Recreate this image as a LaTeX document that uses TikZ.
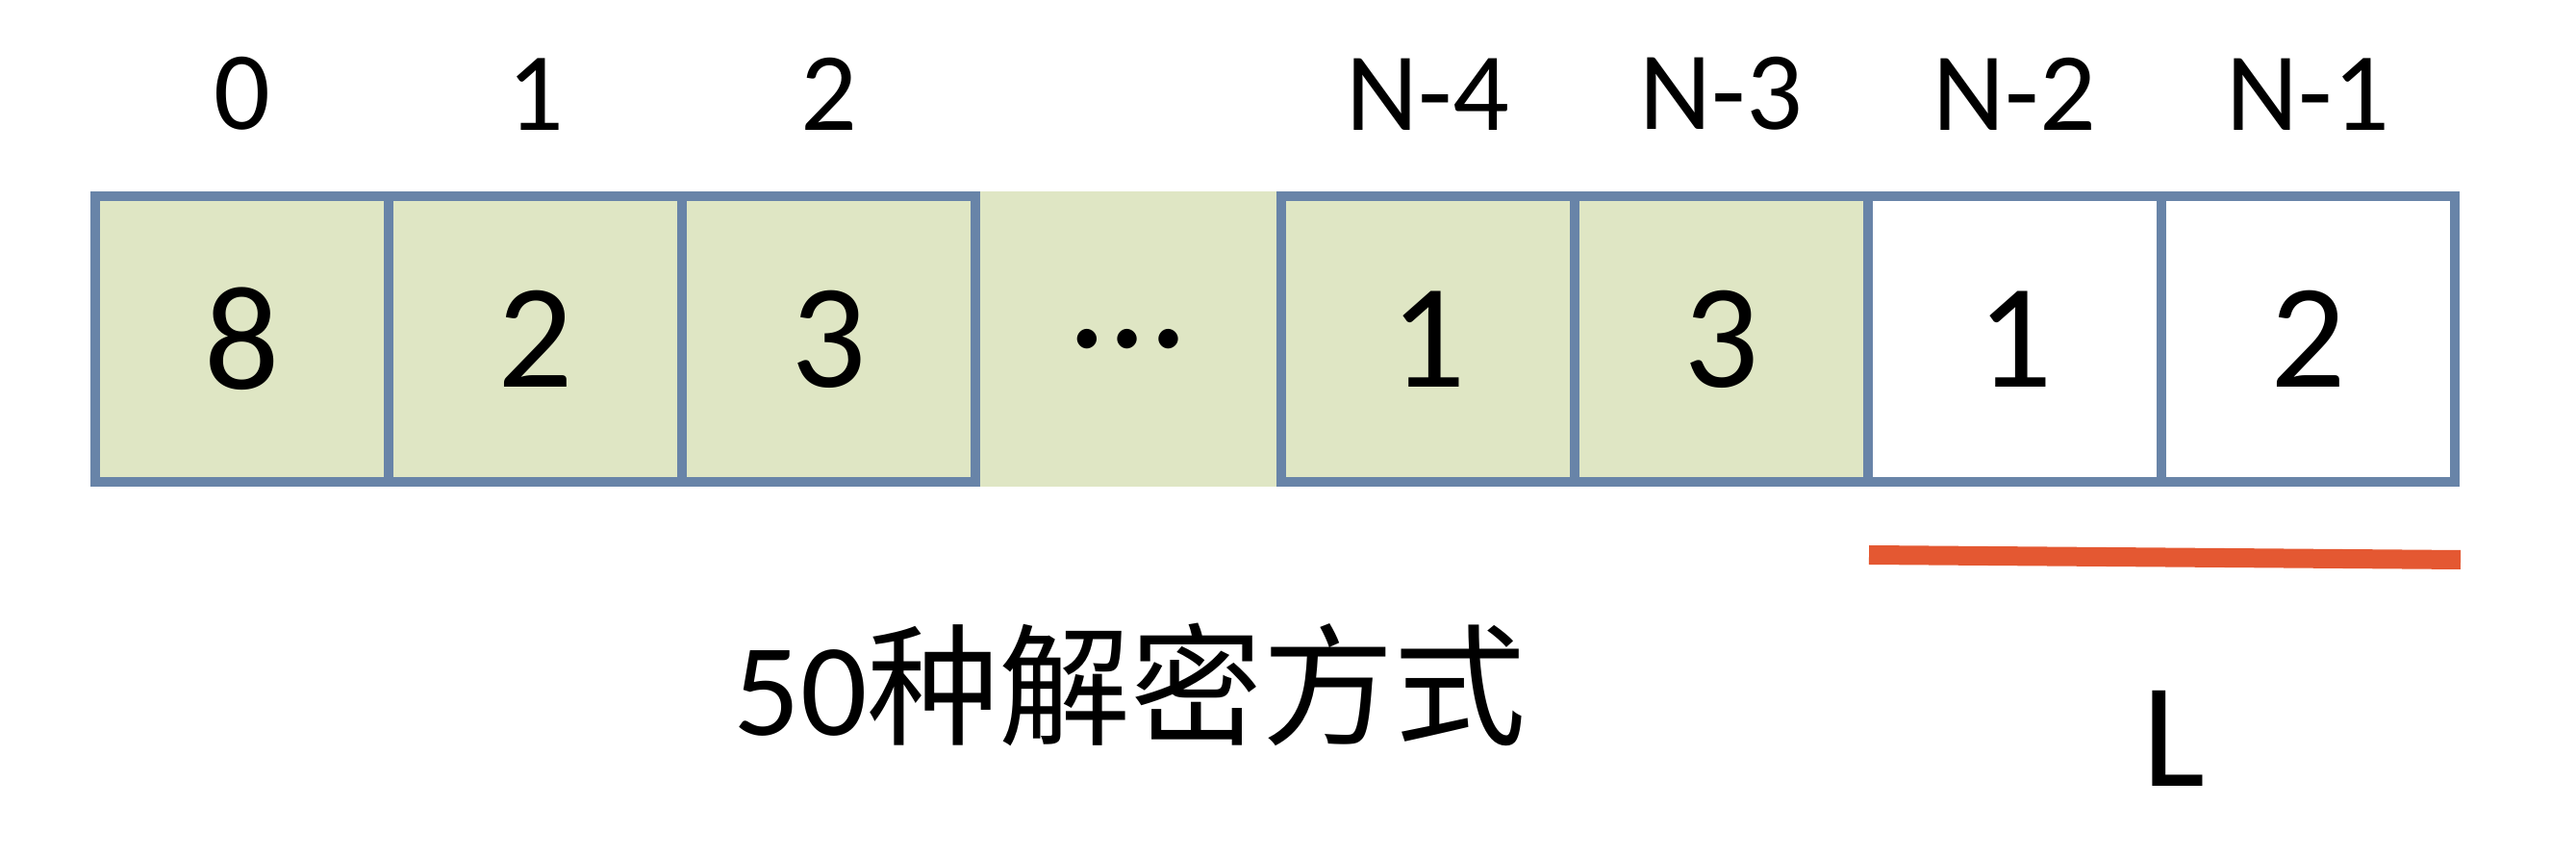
\documentclass[tikz,border=0pt]{standalone}
\usepackage{fontspec}
\setmainfont{Carlito}
\newfontfamily\cjk{Noto Sans CJK SC}
\usepackage{tikz}
\definecolor{cellgreen}{RGB}{223,230,196}
\definecolor{cellblue}{RGB}{104,132,168}
\definecolor{markred}{RGB}{228,88,50}

\begin{document}
\begin{tikzpicture}[cell/.style={draw=cellblue,line width=2.8pt,fill=cellgreen,minimum width=3.05cm,minimum height=2.97cm,inner sep=0,font=\fontsize{44}{50}\selectfont},
    idx/.style={font=\fontsize{33}{38}\selectfont,inner sep=0,anchor=base},
    every label/.style={idx,anchor=south}]
        \fill[white] (0,0) rectangle (26.78,-8.90);
        \useasboundingbox (0,0) rectangle (26.78,-8.90);
        \node[fill=cellgreen,minimum width=3.18cm,minimum height=3.07cm,inner sep=0,font=\fontsize{48}{54}\selectfont] (gap) at (11.73,-3.525) {…};
        \node[cell,label={[label distance=0.63cm]above:0}] (c0) at (2.515,-3.525) {8};
        \node[cell,label={[label distance=0.63cm]above:1}] (c1) at (5.565,-3.525) {2};
        \node[cell,label={[label distance=0.63cm]above:2}] (c2) at (8.615,-3.525) {3};
        \node[cell,label={[label distance=0.63cm]above:N-4}] (c4) at (14.845,-3.525) {1};
        \node[cell,label={[label distance=0.63cm]above:N-3}] (c5) at (17.895,-3.525) {3};
        \node[cell,fill=white,label={[label distance=0.63cm]above:N-2}] (c6) at (20.945,-3.525) {1};
        \node[cell,fill=white,label={[label distance=0.63cm]above:N-1}] (c7) at (23.995,-3.525) {2};
        \coordinate (lenL) at (19.43,-5.77);
        \coordinate (lenR) at (25.58,-5.82);
        \draw[markred,line width=0.2cm] (lenL) -- (lenR);
        \node[idx,font=\fontsize{44}{50}\selectfont] (len) at (22.60,-8.18) {L};
        \node[idx,anchor=base west,font=\fontsize{39}{45}\selectfont] (ways) at (7.62,-7.65) {50{\cjk 种解密方式}};
      \end{tikzpicture}
\end{document}
